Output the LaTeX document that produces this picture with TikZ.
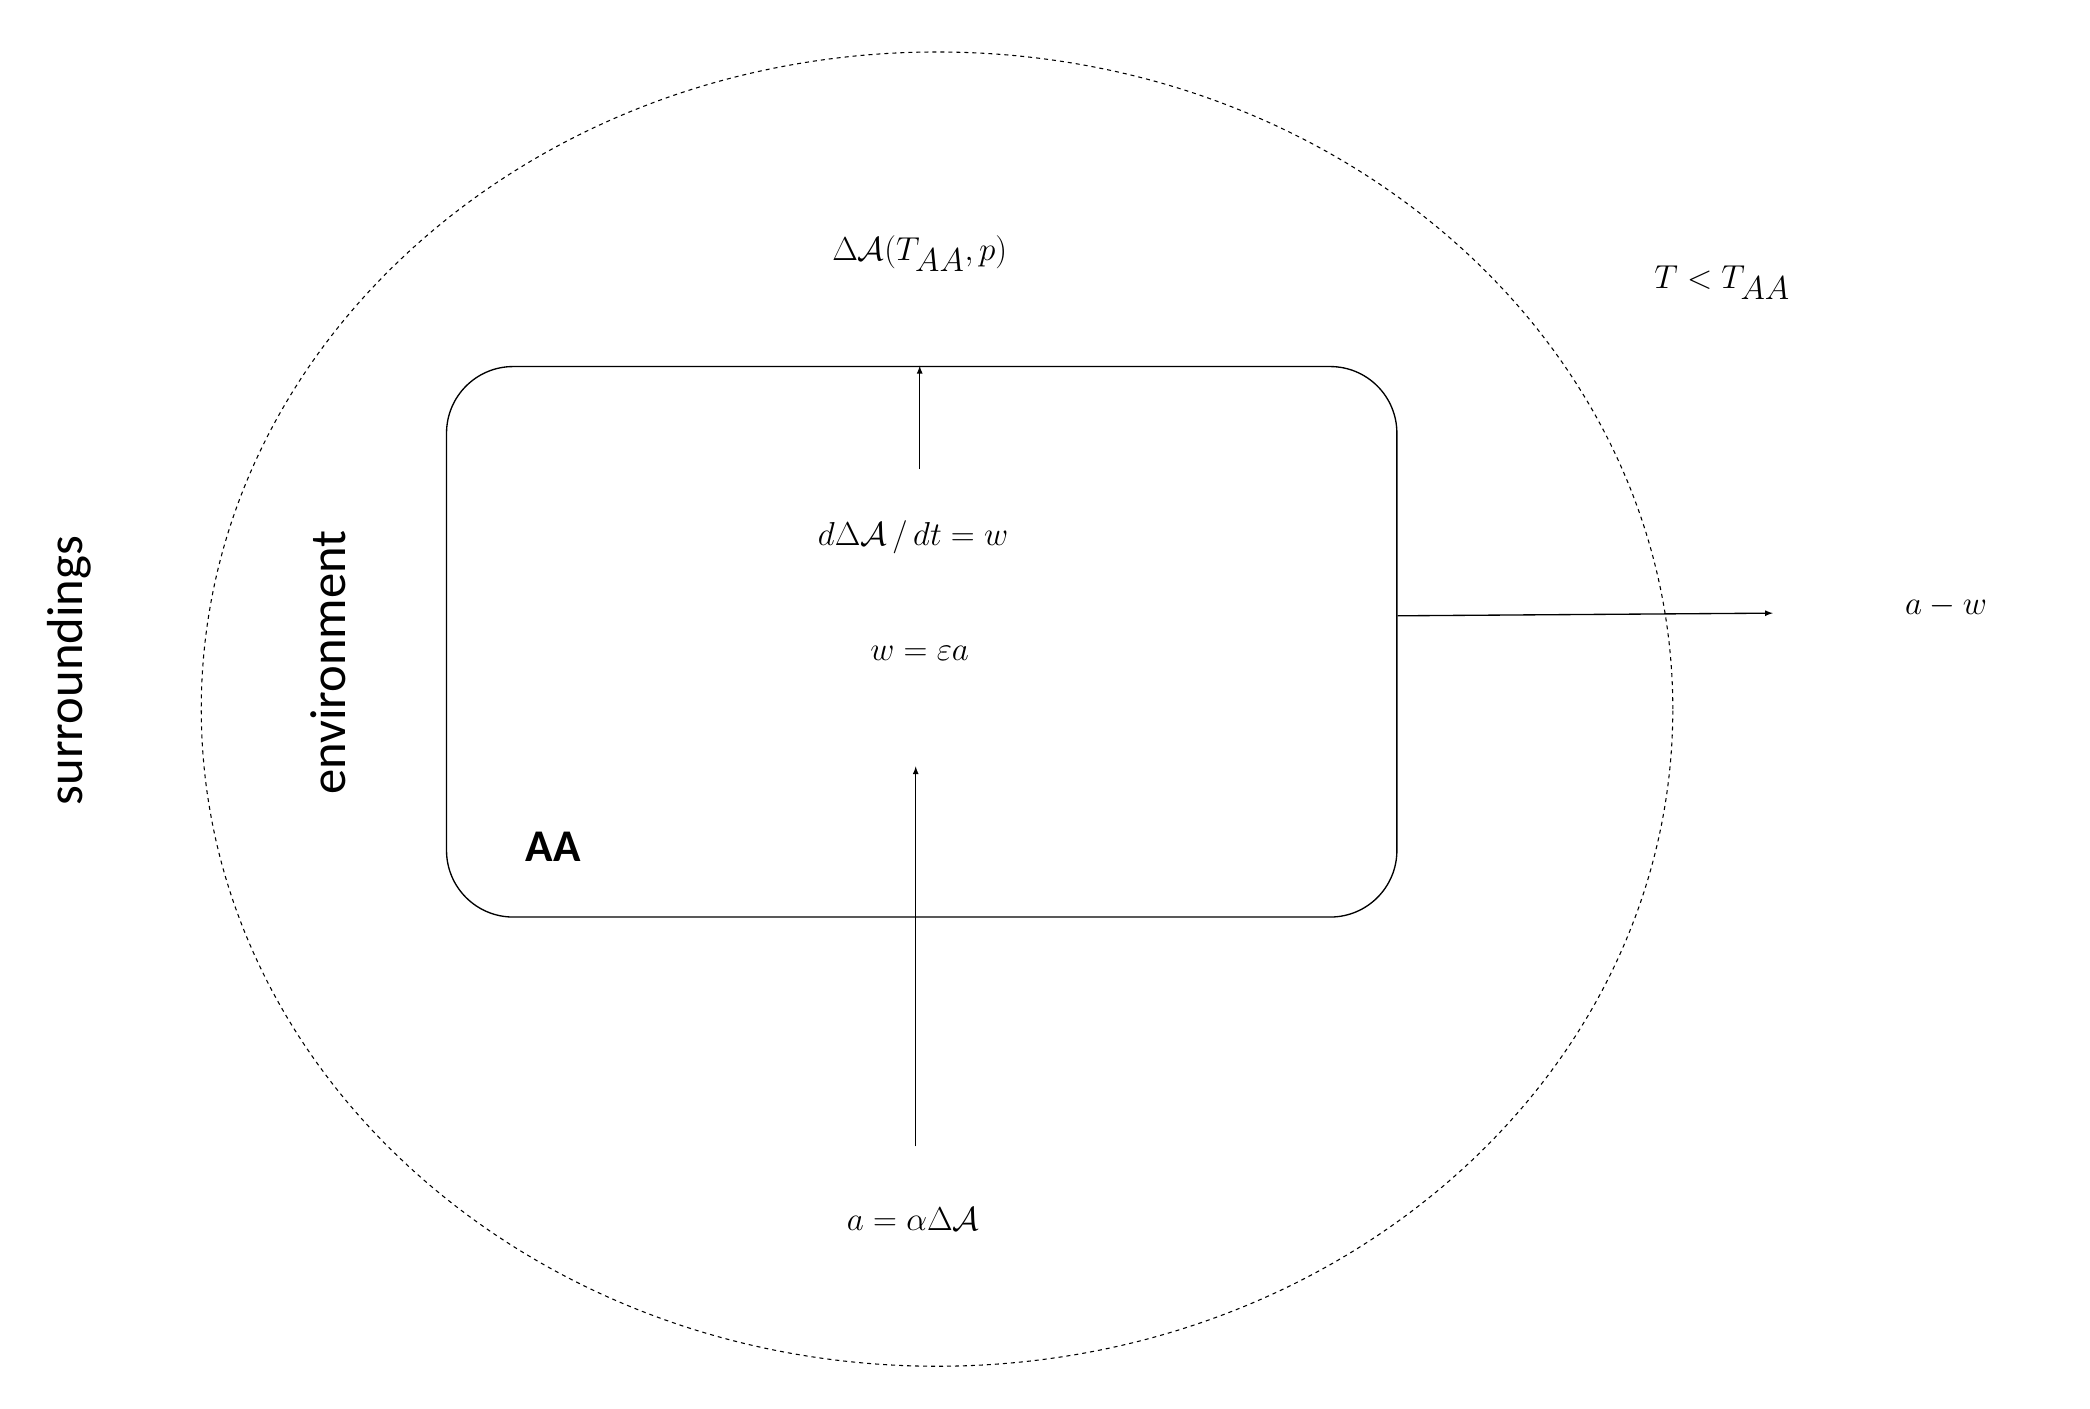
\documentclass[tikz,border=0pt]{standalone}
\usetikzlibrary{shapes.geometric}
\usepackage{fontspec}
\setmainfont{Carlito}
\usepackage{amsmath}
\begin{document}
\begin{tikzpicture}[x=1pt,y=-1pt,
  eq/.style={font=\fontsize{44}{50}\selectfont},
  lab/.style={font=\fontsize{38}{42}\selectfont},
  arr/.style={-latex,line width=1pt}]
\useasboundingbox (0,0) rectangle (1568,1057);
\node[draw,dashed,line width=0.8pt,ellipse,minimum width=1104pt,minimum height=986pt] (env) at (703,532) {};
\node[draw,rounded corners=50pt,line width=1pt,minimum width=713pt,minimum height=413pt] (box) at (691.5,481.5) {};
\node[eq] (top) at (690,190) {$\Delta\mathcal{A}(T_{AA},p)$};
\node[eq] (tt) at (1292,212) {$T<T_{AA}$};
\node[eq] (de) at (685,403) {$d\Delta\mathcal{A}\,/\,dt=w$};
\node[eq] (w) at (690,490) {$w=\varepsilon a$};
\node[eq] (a) at (685,915) {$a=\alpha\Delta\mathcal{A}$};
\node[eq] (aw) at (1460,455) {$a-w$};
\node[font=\bfseries\fontsize{34}{38}\selectfont] (aa) at (415,635) {AA};
\node[lab,rotate=90] (sur) at (52,503) {surroundings};
\node[lab,rotate=90] (en) at (246,497) {environment};
\coordinate (s1) at (690,352);
\coordinate (s2) at (687,860);
\coordinate (s3) at (687,575);
\draw[arr] (s1) -- (box.north -| s1);
\draw[arr] (s2) -- (s3);
\draw[arr] (box.east |- 0,462) -- (1330,460);
\end{tikzpicture}
\end{document}
